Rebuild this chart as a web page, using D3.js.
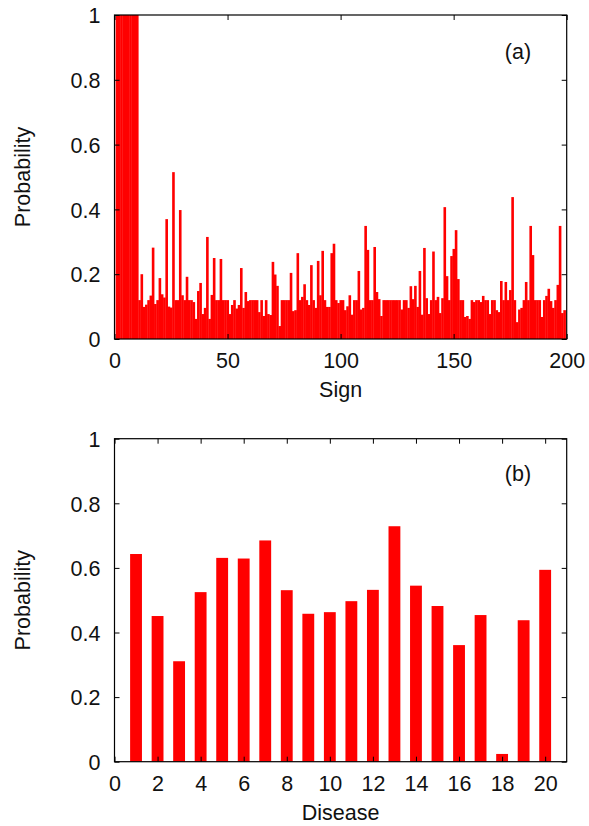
<!DOCTYPE html>
<html>
<head>
<meta charset="utf-8">
<script src="https://cdn.jsdelivr.net/npm/d3@7"></script>
<style>
  html, body { margin: 0; padding: 0; background: #fff; }
  svg { display: block; }
  text { font-family: "Liberation Sans", Arial, sans-serif; fill: #111; }
</style>
</head>
<body>
<svg id="chart" width="589" height="826"></svg>
<script>
// ---- Data ----
// Panel (a): probability per sign, signs 1..199
const signValues = [
  1, 1, 1, 1, 1, 1, 1, 1, 1, 1,
  0.12, 0.2, 0.099, 0.106, 0.12, 0.134, 0.282, 0.108, 0.12, 0.188,
  0.138, 0.128, 0.37, 0.1, 0.097, 0.515, 0.12, 0.12, 0.398, 0.135,
  0.12, 0.192, 0.12, 0.12, 0.114, 0.062, 0.148, 0.173, 0.077, 0.096,
  0.315, 0.062, 0.136, 0.25, 0.12, 0.12, 0.247, 0.12, 0.12, 0.12,
  0.077, 0.105, 0.12, 0.094, 0.105, 0.219, 0.096, 0.145, 0.117, 0.12,
  0.12, 0.12, 0.12, 0.083, 0.12, 0.071, 0.12, 0.077, 0.074, 0.238,
  0.199, 0.164, 0.04, 0.12, 0.12, 0.12, 0.12, 0.204, 0.086, 0.089,
  0.265, 0.12, 0.13, 0.169, 0.12, 0.105, 0.228, 0.12, 0.096, 0.241,
  0.135, 0.272, 0.12, 0.099, 0.099, 0.265, 0.294, 0.12, 0.111, 0.12,
  0.12, 0.089, 0.101, 0.135, 0.075, 0.12, 0.12, 0.21, 0.091, 0.096,
  0.349, 0.275, 0.12, 0.12, 0.284, 0.145, 0.123, 0.071, 0.12, 0.12,
  0.12, 0.12, 0.12, 0.12, 0.12, 0.12, 0.091, 0.12, 0.12, 0.096,
  0.163, 0.123, 0.164, 0.099, 0.21, 0.075, 0.281, 0.126, 0.077, 0.12,
  0.27, 0.12, 0.13, 0.08, 0.126, 0.407, 0.194, 0.12, 0.256, 0.278,
  0.336, 0.185, 0.12, 0.12, 0.068, 0.071, 0.062, 0.12, 0.114, 0.12,
  0.12, 0.114, 0.133, 0.12, 0.12, 0.077, 0.12, 0.12, 0.089, 0.083,
  0.179, 0.12, 0.176, 0.12, 0.151, 0.438, 0.12, 0.052, 0.091, 0.096,
  0.12, 0.176, 0.12, 0.349, 0.259, 0.12, 0.12, 0.12, 0.068, 0.12,
  0.133, 0.155, 0.117, 0.096, 0.12, 0.167, 0.349, 0.08, 0.089
];
const signs = signValues.map((v, i) => i + 1);

// Panel (b): probability per disease, diseases 1..20
const diseases = [1, 2, 3, 4, 5, 6, 7, 8, 9, 10, 11, 12, 13, 14, 15, 16, 17, 18, 19, 20];
const diseaseValues = [0.643, 0.451, 0.311, 0.525, 0.631, 0.629, 0.685, 0.531, 0.458, 0.463,
                       0.497, 0.532, 0.729, 0.545, 0.482, 0.361, 0.454, 0.024, 0.438, 0.594];

// Tick labels
const yTicks = [0, 0.2, 0.4, 0.6, 0.8, 1];
const signTicks = [0, 50, 100, 150, 200];
const diseaseTicks = [0, 2, 4, 6, 8, 10, 12, 14, 16, 18, 20];

// ---- Drawing ----
const svg = d3.select("#chart");
const FS = 21.5;
const left = 114.5, right = 566.7;

function panel(opts) {
  const { top, bottom, xDomain, xTicks, cats, vals, barW, overlap, xLabel, tag, tagY, id } = opts;
  const x = d3.scaleLinear().domain(xDomain).range([left, right]);
  const y = d3.scaleLinear().domain([0, 1]).range([bottom, top]);
  const g = svg.append("g");

  g.append("clipPath").attr("id", id)
    .append("rect").attr("x", left).attr("y", top)
    .attr("width", right - left).attr("height", bottom - top);

  g.append("g").attr("clip-path", `url(#${id})`)
    .selectAll("rect").data(cats).join("rect")
    .attr("x", (d) => x(d - barW / 2))
    .attr("width", (d) => x(d + barW / 2) - x(d - barW / 2) + overlap)
    .attr("y", (d, i) => y(vals[i]))
    .attr("height", (d, i) => y(0) - y(vals[i]))
    .attr("fill", "#ff0000");

  const tl = 5;
  const axB = g.append("g").attr("transform", `translate(0,${bottom})`)
    .call(d3.axisBottom(x).tickValues(xTicks).tickSize(-tl).tickPadding(14).tickFormat(d3.format("d")));
  const axT = g.append("g").attr("transform", `translate(0,${top})`)
    .call(d3.axisTop(x).tickValues(xTicks).tickSize(-tl).tickFormat(""));
  const axL = g.append("g").attr("transform", `translate(${left},0)`)
    .call(d3.axisLeft(y).tickValues(yTicks).tickSize(-tl).tickPadding(14).tickFormat((d) => d3.format("")(d)));
  const axR = g.append("g").attr("transform", `translate(${right},0)`)
    .call(d3.axisRight(y).tickValues(yTicks).tickSize(-tl).tickFormat(""));
  [axB, axT, axL, axR].forEach((a) => {
    a.select(".domain").remove();
    a.selectAll(".tick line").attr("stroke", "#000").attr("stroke-width", 1);
    a.selectAll("text").attr("font-size", FS).attr("fill", "#111")
      .attr("font-family", "'Liberation Sans', Arial, sans-serif");
  });
  axB.selectAll("text").attr("dy", null).attr("y", 29).attr("dominant-baseline", "auto");
  axL.selectAll("text").attr("dy", "0.36em");

  g.append("rect").attr("x", left).attr("y", top)
    .attr("width", right - left).attr("height", bottom - top)
    .attr("fill", "none").attr("stroke", "#000").attr("stroke-width", 1.2);

  g.append("text").attr("x", (left + right) / 2).attr("y", bottom + 58)
    .attr("text-anchor", "middle").attr("font-size", FS).text(xLabel);
  g.append("text")
    .attr("transform", `translate(30,${(top + bottom) / 2}) rotate(-90)`)
    .attr("text-anchor", "middle").attr("font-size", FS).text("Probability");
  g.append("text").attr("x", 518).attr("y", tagY)
    .attr("text-anchor", "middle").attr("font-size", FS).text(tag);
}

panel({ id: "clipA", top: 15, bottom: 339, xDomain: [0, 200], xTicks: signTicks,
        cats: signs, vals: signValues, barW: 1, overlap: 0.35, xLabel: "Sign", tag: "(a)", tagY: 59 });
panel({ id: "clipB", top: 438.7, bottom: 761.7, xDomain: [0, 21], xTicks: diseaseTicks,
        cats: diseases, vals: diseaseValues, barW: 0.55, overlap: 0, xLabel: "Disease", tag: "(b)", tagY: 481 });
</script>
</body>
</html>
